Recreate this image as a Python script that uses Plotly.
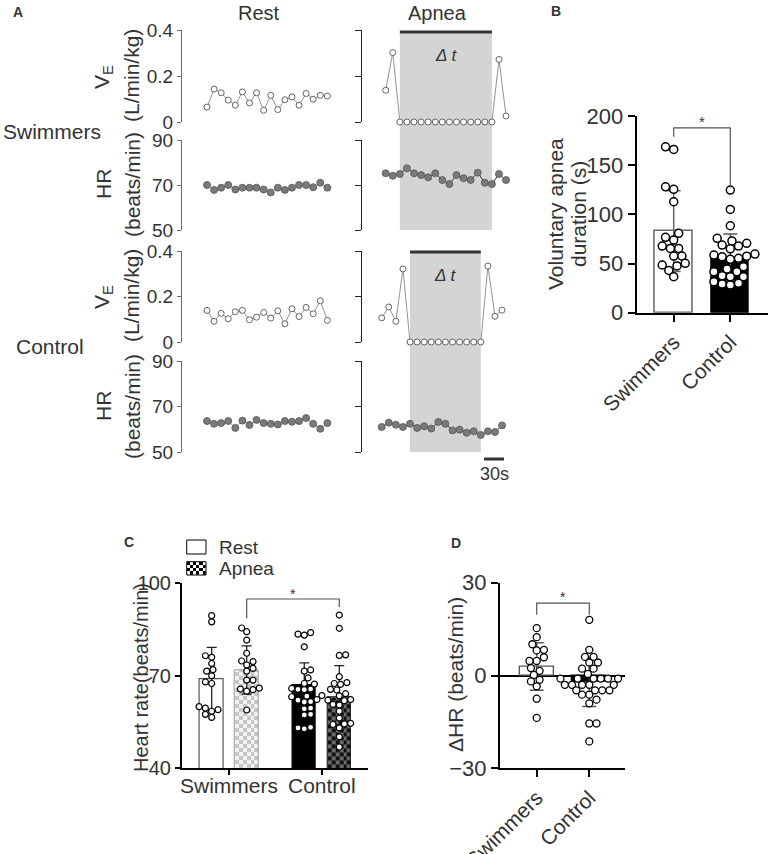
import math
import plotly.graph_objects as go

W, H = 770, 854
FONT = "Liberation Sans, Arial, Helvetica, sans-serif"
TXT = "#333333"

# ---------------- Data ----------------
sample_index = list(range(18))

swim_rest_ve = [0.065, 0.143, 0.127, 0.095, 0.073, 0.131, 0.083, 0.127, 0.051, 0.116, 0.054, 0.097, 0.109, 0.073, 0.124, 0.099, 0.116, 0.113]
swim_rest_hr = [70.0, 67.8, 68.8, 70.0, 68.0, 68.8, 68.8, 68.8, 68.0, 66.7, 68.8, 67.8, 68.8, 70.0, 70.0, 69.0, 71.0, 68.8]
swim_apnea_ve = [0.138, 0.302, 0, 0, 0, 0, 0, 0, 0, 0, 0, 0, 0, 0, 0, 0, 0.272, 0.026]
swim_apnea_hr = [75.2, 74.1, 74.9, 77.4, 75.2, 74.4, 73.4, 75.2, 72.2, 70.4, 74.4, 73.0, 72.2, 75.5, 71.0, 70.4, 74.9, 72.2]
ctrl_rest_ve = [0.139, 0.091, 0.126, 0.102, 0.133, 0.139, 0.098, 0.109, 0.130, 0.105, 0.137, 0.080, 0.146, 0.112, 0.152, 0.124, 0.181, 0.095]
ctrl_rest_hr = [63.6, 62.4, 62.7, 63.6, 60.6, 63.8, 61.9, 64.1, 62.7, 62.4, 62.1, 63.6, 63.3, 63.6, 64.9, 62.4, 60.2, 62.7]
ctrl_apnea_ve = [0.106, 0.154, 0.091, 0.321, 0, 0, 0, 0, 0, 0, 0, 0, 0, 0, 0, 0.334, 0.113, 0.140]
ctrl_apnea_hr = [61.0, 62.9, 62.0, 61.0, 62.4, 60.6, 61.3, 60.3, 63.2, 62.4, 59.5, 59.8, 58.5, 59.1, 57.5, 59.1, 58.8, 61.7]
swim_apnea_window = [2, 15]
ctrl_apnea_window = [4, 14]
ve_ticks = [0, 0.2, 0.4]
ve_ticktext = ["0", "0.2", "0.4"]
hr_ticks = [50, 70, 90]

groups = ["Swimmers", "Control"]

# Panel B: voluntary apnea duration (s)
b_swim = [166, 168.7, 125.4, 128, 112.8, 76.6, 73.9, 80.7, 65.4, 65.4, 67.8, 57.6, 57.6, 48.5, 50.2, 47.5, 43, 36.6]
b_ctrl = [124.7, 105, 88.4, 75.6, 73, 70.5, 67.8, 68.8, 65, 59.6, 58.6, 57.5, 55.3, 54.3, 56.9, 46.7, 44.5,
          41.7, 41.7, 36.6, 36.6, 37.6, 29.9, 31.5, 28.1, 29.2]
b_mean = [83, 56]
b_sd = [41, 24]
b_ticks = [0, 50, 100, 150, 200]

# Panel C: heart rate (beats/min)
c_swim_rest = [89.5, 87.5, 76.5, 76, 74, 72, 71.5, 70, 68, 67.5, 60, 59, 58.5, 57.5, 56.5, 59.5]
c_swim_apnea = [85.5, 84.3, 81.6, 77.3, 74.8, 74.6, 73.5, 72.4, 71.5, 68.6, 68.6, 66, 65.7, 65.5, 65, 58.9]
c_ctrl_rest = [84, 83.2, 83.5, 79.4, 71.9, 71.5, 69.3, 67.3, 67.5, 65.7, 65.5, 65.9, 65.6, 63.4, 63.2, 63.6,
               62.1, 62.3, 61.5, 61.6, 59.5, 59.3, 57.3, 57.5, 53.1, 53.3, 52.8]
c_ctrl_apnea = [89.7, 85.4, 76.8, 76.6, 69.7, 67.8, 67.2, 67.5, 65.4, 65.6, 62.3, 62.1, 61.9, 60.5, 60.7,
                56.3, 54.4, 54.6, 54.2, 53.1, 50.2, 46.9, 63.5, 64.2, 58.5]
c_mean_rest = [69.0, 66.8]
c_sd_rest = [10.2, 7.4]
c_mean_apnea = [71.9, 63.0]
c_sd_apnea = [7.8, 10.3]
c_ticks = [40, 70, 100]

# Panel D: delta HR (beats/min)
d_swim = [15.3, 12.4, 10.1, 8.3, 8.1, 5.9, 4.7, 4.7, 2.4, 1.5, 0.2, -1.4, -1.9, -3.5, -7.5, -13.7]
d_ctrl = [18, 8.3, 6, 6, 4.2, 4.2, 2.2, 2.2, 0.5, -1, -1, -1, -1, -1, -1, -3, -3, -3, -3, -3,
          -4.8, -4.8, -4.8, -4.8, -6.2, -6.2, -7.8, -9, -15.5, -15.5, -21.3]
d_mean = [2.9, -2.1]
d_sd = [7.7, 7.9]
d_ticks = [-30, 0, 30]

# ---------------- Layout helpers ----------------
layout = dict(width=W, height=H, margin=dict(l=0, r=0, t=0, b=0, autoexpand=False), autosize=False,
              paper_bgcolor="white", plot_bgcolor="rgba(0,0,0,0)", showlegend=False,
              font=dict(family=FONT, color=TXT, size=19))
shapes = []
ann = []
traces = []


def names(n):
    return ("xaxis" if n == 1 else f"xaxis{n}", "yaxis" if n == 1 else f"yaxis{n}",
            "x" if n == 1 else f"x{n}", "y" if n == 1 else f"y{n}")


def set_axes(n, xpx, ypx, xr, yr, xkw=None, ykw=None):
    xa, ya, xn, yn = names(n)
    base = dict(showgrid=False, zeroline=False, fixedrange=True, automargin=False)
    layout[xa] = dict(base, domain=[xpx[0] / W, xpx[1] / W], range=xr, anchor=yn, **(xkw or {}))
    layout[ya] = dict(base, domain=[1 - ypx[1] / H, 1 - ypx[0] / H], range=yr, anchor=xn, **(ykw or {}))
    return xn, yn


def text(x, y, s, size=19, angle=0, xanchor="center", color=TXT):
    ann.append(dict(xref="paper", yref="paper", x=x / W, y=1 - y / H, text=s, showarrow=False,
                    textangle=angle, xanchor=xanchor, yanchor="middle",
                    font=dict(size=size, color=color, family=FONT)))


def swarm(values, center, diam, xscale, yscale):
    order = sorted(range(len(values)), key=lambda i: values[i])
    placed, out = [], [center] * len(values)
    step = diam / 5.0
    for cnt, i in enumerate(order):
        yp = values[i] * yscale
        k = 0
        found = None
        while found is None:
            offs = [0.0] if k == 0 else ([k * step, -k * step] if cnt % 2 == 0 else [-k * step, k * step])
            for o in offs:
                if all((o - a) ** 2 + (yp - b) ** 2 >= (diam * 0.97) ** 2 for a, b in placed):
                    found = o
                    break
            k += 1
        placed.append((found, yp))
        out[i] = center + found / xscale
    return out


# ---------------- Panel A ----------------
A_STEP = 7.08
REST_DOM = (182, 352)
APN_DOM = (362, 520)
REST_FIRST = 207
SWIM_APN_FIRST = 385.7
CTRL_APN_FIRST = 381.7


def idx_range(dom, first):
    return [(dom[0] - first) / A_STEP, (dom[1] - first) / A_STEP]


rest_y = dict(showline=True, linecolor="#6a6a6a", linewidth=1, ticks="outside", ticklen=4,
              tickcolor="#6a6a6a", tickwidth=1, tickfont=dict(size=19, color=TXT))
apn_y = dict(showline=True, linecolor="#222", linewidth=1.2, ticks="outside", ticklen=6,
             tickcolor="#222", tickwidth=1.2, showticklabels=False)
hidden_x = dict(visible=False)

rows = [
    (1, REST_DOM, REST_FIRST, (30, 122), [0, 0.4], ve_ticks, swim_rest_ve, "ve", False),
    (2, REST_DOM, REST_FIRST, (140, 230), [50, 90], hr_ticks, swim_rest_hr, "hr", False),
    (3, APN_DOM, SWIM_APN_FIRST, (30, 122), [0, 0.4], ve_ticks, swim_apnea_ve, "ve", True),
    (4, APN_DOM, SWIM_APN_FIRST, (140, 230), [50, 90], hr_ticks, swim_apnea_hr, "hr", True),
    (5, REST_DOM, REST_FIRST, (251, 342), [0, 0.4], ve_ticks, ctrl_rest_ve, "ve", False),
    (6, REST_DOM, REST_FIRST, (361, 452), [50, 90], hr_ticks, ctrl_rest_hr, "hr", False),
    (7, APN_DOM, CTRL_APN_FIRST, (251, 342), [0, 0.4], ve_ticks, ctrl_apnea_ve, "ve", True),
    (8, APN_DOM, CTRL_APN_FIRST, (361, 452), [50, 90], hr_ticks, ctrl_apnea_hr, "hr", True),
]
for n, dom, first, ypx, yr, tv, data, kind, apnea in rows:
    yk = dict(apn_y if apnea else rest_y, tickvals=tv)
    if kind == "ve":
        yk["ticktext"] = ve_ticktext
    xn, yn = set_axes(n, dom, ypx, idx_range(dom, first), yr, hidden_x, yk)
    if kind == "ve":
        mk = dict(size=6, color="white", line=dict(color="#555", width=0.9))
        ln = dict(color="#777", width=0.8)
    else:
        mk = dict(size=7, color="#7a7a7a", line=dict(color="#555", width=0.8))
        ln = dict(color="#333" if apnea else "#999", width=1)
    traces.append(go.Scatter(x=sample_index, y=data, mode="lines+markers", marker=mk, line=ln,
                             xaxis=xn, yaxis=yn, cliponaxis=False, hoverinfo="skip"))

for xr_name, win, top, bottom in [("x3", swim_apnea_window, 32, 230), ("x7", ctrl_apnea_window, 252, 452)]:
    shapes.append(dict(type="rect", xref=xr_name, yref="paper", x0=win[0], x1=win[1],
                       y0=1 - bottom / H, y1=1 - top / H, fillcolor="#d4d4d4", line=dict(width=0), layer="below"))
    shapes.append(dict(type="line", xref=xr_name, yref="paper", x0=win[0], x1=win[1],
                       y0=1 - top / H, y1=1 - top / H, line=dict(color="#333", width=3)))
    ann.append(dict(xref=xr_name, yref="paper", x=(win[0] + win[1]) / 2, y=1 - (top + 12) / H,
                    text="<i>Δ t</i>", showarrow=False, font=dict(size=17, color=TXT, family=FONT)))

shapes.append(dict(type="line", xref="paper", yref="paper", x0=484 / W, x1=504 / W, y0=1 - 459 / H,
                   y1=1 - 459 / H, line=dict(color="#333", width=3)))
text(494, 474, "30s", 18)

text(11, 12, "<b>A</b>", 14, xanchor="left")
text(259, 13, "Rest", 20)
text(437, 13, "Apnea", 20)
text(52, 131, "Swimmers", 21)
text(50, 346, "Control", 21)
for yc_ve, yc_hr in [(77, 184), (297, 406)]:
    text(103, yc_ve, "V<sub>E</sub>", 21, -90)
    text(132, yc_ve - 1, "(L/min/kg)", 21, -90)
    text(103, yc_hr, "HR", 21, -90)
    text(132, yc_hr + 1, "(beats/min)", 21, -90)

# ---------------- Panel B ----------------
B_XDOM, B_YDOM, B_XR, B_YR = (636.7, 768), (116, 312.7), [-0.654, 1.666], [0, 200]
bx, by = set_axes(9, B_XDOM, B_YDOM, B_XR, B_YR,
                  dict(showline=True, linecolor="black", linewidth=2, ticks="outside", ticklen=7,
                       tickwidth=2, tickcolor="black", tickvals=[0, 1], ticktext=groups, tickangle=-45,
                       tickfont=dict(size=21, color=TXT)),
                  dict(showline=True, linecolor="black", linewidth=2, ticks="outside", ticklen=7,
                       tickwidth=2, tickcolor="black", tickvals=b_ticks, tickfont=dict(size=22, color=TXT)))
b_xs = (B_XDOM[1] - B_XDOM[0]) / (B_XR[1] - B_XR[0])
b_ys = (B_YDOM[1] - B_YDOM[0]) / (B_YR[1] - B_YR[0])
for gi, (fill, lc, ec) in enumerate([("white", "#666", "#666"), ("black", "black", "#555")]):
    traces.append(go.Bar(x=[gi], y=[b_mean[gi]], width=0.66, marker=dict(color=fill, line=dict(color=lc, width=1.5)),
                         error_y=dict(type="data", array=[b_sd[gi]], color=ec, thickness=1.5, width=7),
                         xaxis=bx, yaxis=by, hoverinfo="skip"))
for gi, vals in enumerate([b_swim, b_ctrl]):
    traces.append(go.Scatter(x=swarm(vals, gi, 8.2, b_xs, b_ys), y=vals, mode="markers",
                             marker=dict(size=8, color="white", line=dict(color="black", width=1.5)),
                             xaxis=bx, yaxis=by, cliponaxis=False, hoverinfo="skip"))
shapes.append(dict(type="path", xref=bx, yref=by, path="M 0,179 L 0,188 L 1,188 L 1,127",
                   line=dict(color="#555", width=1.2)))
text(702, 121, "*", 15)
text(549, 11, "<b>B</b>", 14, xanchor="left")
text(555, 214, "Voluntary apnea", 21, -90)
text(578, 214, "duration (s)", 21, -90)

# ---------------- Panel C ----------------
C_XDOM, C_YDOM, C_XR, C_YR = (181.7, 368), (583.3, 768.3), [-0.513, 1.499], [40, 100]
C_OFF, C_BW = 0.189, 0.252
cx, cy = set_axes(10, C_XDOM, C_YDOM, C_XR, C_YR,
                  dict(showline=True, linecolor="black", linewidth=1.5, ticks="outside", ticklen=5,
                       tickwidth=1.5, tickcolor="black", tickvals=[0, 1], showticklabels=False),
                  dict(showline=True, linecolor="black", linewidth=1.5, ticks="outside", ticklen=5,
                       tickwidth=1.5, tickcolor="black", tickvals=c_ticks, tickfont=dict(size=20, color=TXT)))
c_xs = (C_XDOM[1] - C_XDOM[0]) / (C_XR[1] - C_XR[0])
c_ys = (C_YDOM[1] - C_YDOM[0]) / (C_YR[1] - C_YR[0])
cell_h = 4.0 / c_ys
for gi, g in enumerate(groups):
    ann.append(dict(xref=cx, yref="paper", x=gi, y=1 - 785 / H, text=g, showarrow=False,
                    font=dict(size=21, color=TXT, family=FONT), yanchor="middle"))


def checker(xc, width, y0, y1, ncols, ch, c0, c1, xa, ya):
    xe = [xc - width / 2 + j * width / ncols for j in range(ncols + 1)]
    nrows = int(math.ceil((y1 - y0) / ch))
    ye = [min(y0 + i * ch, y1) for i in range(nrows + 1)]
    z = [[(i + j) % 2 for j in range(ncols)] for i in range(nrows)]
    return go.Heatmap(x=xe, y=ye, z=z, colorscale=[[0, c0], [1, c1]], zmin=0, zmax=1, showscale=False,
                      xaxis=xa, yaxis=ya, hoverinfo="skip")


traces.append(checker(0 + C_OFF, C_BW, C_YR[0], c_mean_apnea[0], 6, cell_h, "#f2f2f2", "#c6c6c6", cx, cy))
traces.append(checker(1 + C_OFF, C_BW, C_YR[0], c_mean_apnea[1], 6, cell_h, "#111111", "#6a6a6a", cx, cy))
for gi, (fill, lc) in enumerate([("white", "#555"), ("black", "black")]):
    traces.append(go.Bar(x=[gi - C_OFF], y=[c_mean_rest[gi]], width=C_BW,
                         marker=dict(color=fill, line=dict(color=lc, width=1.2)),
                         error_y=dict(type="data", array=[c_sd_rest[gi]], color="#222", thickness=1.3, width=5),
                         xaxis=cx, yaxis=cy, hoverinfo="skip"))
    traces.append(go.Bar(x=[gi + C_OFF], y=[c_mean_apnea[gi]], width=C_BW,
                         marker=dict(color="rgba(0,0,0,0)", line=dict(color="#999" if gi == 0 else "black", width=1)),
                         error_y=dict(type="data", array=[c_sd_apnea[gi]], color="#222", thickness=1.3, width=5),
                         xaxis=cx, yaxis=cy, hoverinfo="skip"))
for center, vals in [(0 - C_OFF, c_swim_rest), (0 + C_OFF, c_swim_apnea), (1 - C_OFF, c_ctrl_rest), (1 + C_OFF, c_ctrl_apnea)]:
    traces.append(go.Scatter(x=swarm(vals, center, 6.3, c_xs, c_ys), y=vals, mode="markers",
                             marker=dict(size=6, color="white", line=dict(color="black", width=1.2)),
                             xaxis=cx, yaxis=cy, cliponaxis=False, hoverinfo="skip"))
shapes.append(dict(type="path", xref=cx, yref=cy,
                   path=f"M {C_OFF},88.7 L {C_OFF},94.9 L {1 + C_OFF},94.9 L {1 + C_OFF},92.3",
                   line=dict(color="#555", width=1.2)))
text(293, 594, "*", 14)
text(122, 542, "<b>C</b>", 14, xanchor="left")
text(141, 678, "Heart rate(beats/min)", 20, -90)

shapes.append(dict(type="rect", xref="paper", yref="paper", x0=186.7 / W, x1=206 / W, y0=1 - 554 / H, y1=1 - 540 / H,
                   fillcolor="white", line=dict(color="black", width=1)))
lx, ly = set_axes(12, (186.7, 206), (561.7, 575), [0, 6], [0, 4], dict(visible=False), dict(visible=False))
traces.append(go.Heatmap(x=list(range(7)), y=list(range(5)), z=[[(i + j) % 2 for j in range(6)] for i in range(4)],
                         colorscale=[[0, "white"], [1, "black"]], zmin=0, zmax=1, showscale=False,
                         xaxis=lx, yaxis=ly, hoverinfo="skip"))
shapes.append(dict(type="rect", xref="paper", yref="paper", x0=186.7 / W, x1=206 / W, y0=1 - 575 / H, y1=1 - 561.7 / H,
                   line=dict(color="black", width=1)))
text(217, 547, "Rest", 19, xanchor="left")
text(217, 568, "Apnea", 19, xanchor="left")

# ---------------- Panel D ----------------
D_XDOM, D_YDOM, D_XR, D_YR = (500, 625), (582.7, 768.3), [-0.698, 1.679], [-30, 30]
dx, dy = set_axes(11, D_XDOM, D_YDOM, D_XR, D_YR,
                  dict(showline=True, linecolor="black", linewidth=2, ticks="outside", ticklen=7,
                       tickwidth=2, tickcolor="black", tickvals=[0, 1], ticktext=groups, tickangle=-45,
                       tickfont=dict(size=21, color=TXT)),
                  dict(showline=True, linecolor="black", linewidth=2, ticks="outside", ticklen=7,
                       tickwidth=2, tickcolor="black", tickvals=d_ticks, tickfont=dict(size=22, color=TXT),
                       zeroline=True, zerolinecolor="black", zerolinewidth=2))
d_xs = (D_XDOM[1] - D_XDOM[0]) / (D_XR[1] - D_XR[0])
d_ys = (D_YDOM[1] - D_YDOM[0]) / (D_YR[1] - D_YR[0])
for gi, (fill, lc, ec) in enumerate([("white", "#555", "#555"), ("black", "black", "#555")]):
    traces.append(go.Bar(x=[gi], y=[d_mean[gi]], width=0.64, marker=dict(color=fill, line=dict(color=lc, width=1.3)),
                         error_y=dict(type="data", array=[d_sd[gi]], color=ec, thickness=1.5, width=7),
                         xaxis=dx, yaxis=dy, hoverinfo="skip"))
for gi, vals in enumerate([d_swim, d_ctrl]):
    traces.append(go.Scatter(x=swarm(vals, gi, 7.2, d_xs, d_ys), y=vals, mode="markers",
                             marker=dict(size=7, color="white", line=dict(color="black", width=1.3)),
                             xaxis=dx, yaxis=dy, cliponaxis=False, hoverinfo="skip"))
shapes.append(dict(type="path", xref=dx, yref=dy, path="M 0,19.6 L 0,23.4 L 1,23.4 L 1,19.6",
                   line=dict(color="#555", width=1.2)))
text(563, 597, "*", 14)
text(449, 543, "<b>D</b>", 14, xanchor="left")
text(455, 675, "ΔHR (beats/min)", 21, -90)

layout["shapes"] = shapes
layout["annotations"] = ann
layout["bargap"] = 0
fig = go.Figure(data=traces, layout=layout)
fig.write_html("out.html", config={"displayModeBar": False},
               post_script="document.body.style.margin='0';document.body.style.padding='0';")
